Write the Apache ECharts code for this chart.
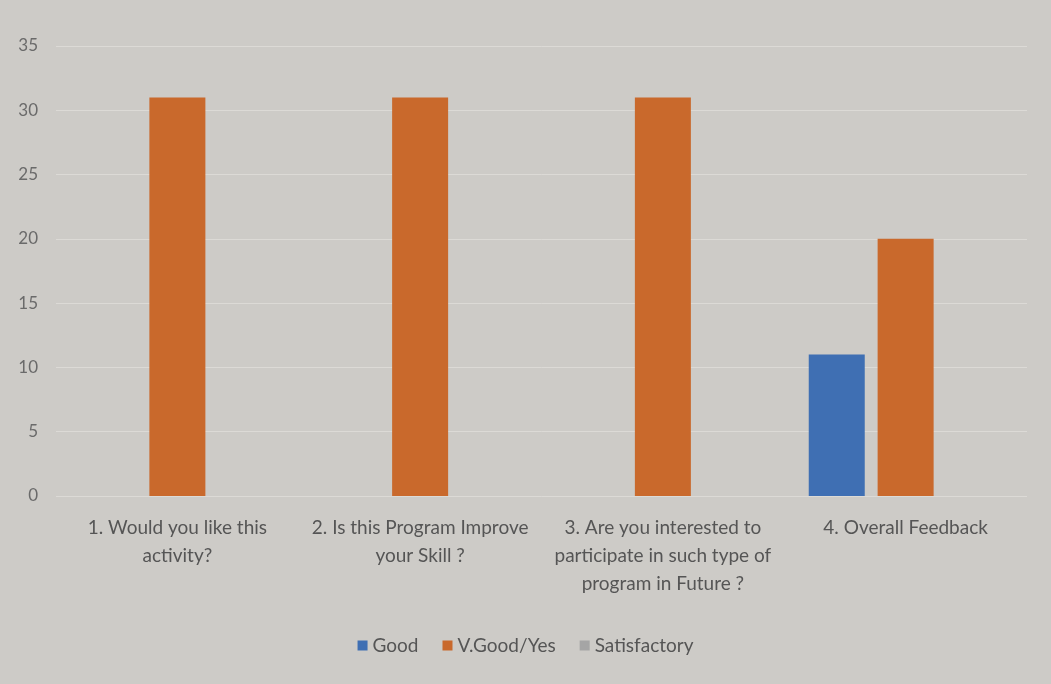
<!DOCTYPE html>
<html>
<head>
<meta charset="utf-8">
<script src="https://cdn.jsdelivr.net/npm/echarts@6/dist/echarts.min.js"></script>
<style>
    html, body { margin: 0; padding: 0; background: #cdcbc7; }
    #chart { width: 1051px; height: 684px; }
</style>
</head>
<body>
<div id="chart"></div>
<script>
const categories = [
    '1. Would you like this\nactivity?',
    '2. Is this Program Improve\nyour Skill ?',
    '3. Are you interested to\nparticipate in such type of\nprogram in Future ?',
    '4. Overall Feedback'
];
const good = [0, 0, 0, 11];
const veryGood = [31, 31, 31, 20];
const satisfactory = [0, 0, 0, 0];
const yTicks = [0, 5, 10, 15, 20, 25, 30, 35];

const font = 'Lato, "Open Sans", sans-serif';

function makeBar(name, data, color) {
    return {
        name: name,
        type: 'bar',
        data: data,
        barWidth: 56,
        barGap: '23%',
        itemStyle: { color: color },
    };
}

let myChart = echarts.init(document.getElementById('chart'));
myChart.setOption({
    backgroundColor: '#cdcbc7',
    textStyle: { fontFamily: font },
    grid: {
        left: 56,
        right: 24,
        top: 46,
        bottom: 188,
    },
    legend: {
        bottom: 24,
        left: 'center',
        itemWidth: 10,
        itemHeight: 10,
        itemGap: 24,
        icon: 'rect',
        textStyle: { fontFamily: font, fontSize: 19, color: '#555' },
        data: ['Good', 'V.Good/Yes', 'Satisfactory'],
    },
    xAxis: {
        type: 'category',
        data: categories,
        axisLine: { show: false },
        axisTick: { show: false },
        axisLabel: {
            interval: 0,
            margin: 18,
            fontSize: 19,
            lineHeight: 28,
            color: '#555',
            fontFamily: font,
            verticalAlign: 'top',
        },
    },
    yAxis: {
        type: 'value',
        min: yTicks[0],
        max: yTicks[yTicks.length - 1],
        interval: 5,
        axisLine: { show: false },
        axisTick: { show: false },
        axisLabel: { fontSize: 17, color: '#6a6a6a', margin: 18, fontFamily: font },
        splitLine: { lineStyle: { color: '#dcdad6', width: 1 } },
    },
    series: [
        makeBar('Good', good, '#3f6fb3'),
        makeBar('V.Good/Yes', veryGood, '#c9692c'),
        makeBar('Satisfactory', satisfactory, '#a5a5a5'),
    ],
});
</script>
</body>
</html>
